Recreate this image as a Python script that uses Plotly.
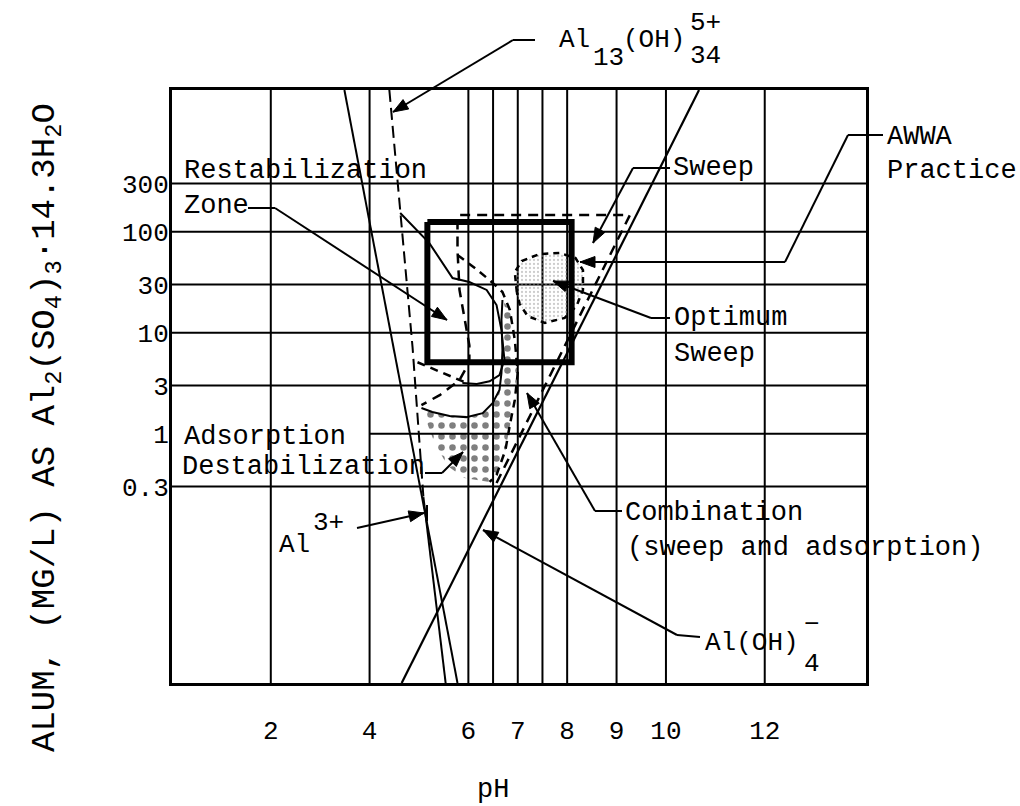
import math
import plotly.graph_objects as go

# ---------------- data (pH, alum mg/L) ----------------
x_ticks = [2, 4, 6, 7, 8, 9, 10, 12]
x_grid = [2, 4, 6, 6.5, 7, 7.5, 8, 9, 10, 12]
y_ticks = [0.3, 1, 3, 10, 30, 100, 300]
y_ticktext = ["0.3", "1", "3", "10", "30", "100", "300"]

ph_al3 = [3.49, 5.78]
alum_al3 = [2530, 0.0034]

ph_al13_upper = [4.40, 4.87, 5.09]
alum_al13_upper = [2530, 7.2, 0.236]
ph_al13_lower = [5.09, 5.54]
alum_al13_lower = [0.236, 0.0034]

ph_aloh4 = [4.65, 10.67]
alum_aloh4 = [0.0034, 2530]

ph_awwa = [5.17, 8.09, 8.09, 5.17, 5.17]
alum_awwa = [125, 125, 5.1, 5.1, 125]

ph_sweep = [6.57, 9.27, 5.78, 5.78, 5.82, 5.92, 6.02, 6.02, 5.82, 5.42, 5.05]
alum_sweep = [0.325, 146, 146, 66, 26.5, 13.4, 7.5, 5.1, 3.4, 2.41, 1.92]

ph_restab = [4.62, 5.21, 5.68, 6.02, 6.37, 6.57, 6.67, 6.73, 6.63, 6.43, 6.17, 5.88]
alum_restab = [153, 77, 34.8, 31.8, 26.5, 18.8, 10.6, 5.4, 3.8, 3.3, 3.1, 3.18]

ph_restab_low = [4.97, 5.42, 5.92]
alum_restab_low = [5.1, 4.1, 3.25]

ph_comb_edge = [5.78, 6.13, 6.43, 6.69, 6.84, 6.94, 7.00, 6.94, 6.84, 6.75, 6.57, 6.43]
alum_comb_edge = [58.7, 43.7, 33.2, 25.3, 16.8, 8.5, 4.0, 2.16, 1.22, 0.69, 0.39, 0.333]

ph_adsorb_top = [5.05, 5.27, 5.62, 5.96, 6.29, 6.49, 6.63, 6.67, 6.69, 6.67, 6.69]
alum_adsorb_top = [1.80, 1.64, 1.50, 1.46, 1.60, 2.01, 2.71, 4.0, 6.7, 13.4, 21.1]

ph_dotted = [6.69, 6.84, 6.94, 7.00, 6.94, 6.84, 6.75, 6.57, 6.43, 5.92, 5.58, 5.31, 5.11,
             5.05, 5.27, 5.62, 5.96, 6.29, 6.49, 6.63, 6.67, 6.69, 6.67, 6.69]
alum_dotted = [21.1, 16.8, 8.5, 4.0, 2.16, 1.22, 0.69, 0.39, 0.333, 0.364, 0.479, 0.83, 1.53,
               1.80, 1.64, 1.50, 1.46, 1.60, 2.01, 2.71, 4.0, 6.7, 13.4, 21.1]

ph_optimum = [6.98, 6.94, 7.08, 7.44, 7.85, 8.17, 8.32, 8.32, 8.19, 7.95, 7.55, 7.20, 7.04, 6.98]
alum_optimum = [25.3, 39.9, 51.3, 60.1, 61.5, 54.8, 41.7, 26.5, 18.4, 14.0, 12.5, 14.6, 19.2, 25.3]

# ---------------- layout helpers (pixel -> paper) ----------------
W, H = 1020, 806
L, R, T, B = 172, 866, 90, 683
FONT = "Liberation Mono"


def px(X):
    return (X - L) / (R - L)


def py(Y):
    return (B - Y) / (B - T)


fig = go.Figure()


def line(xs, ys, width=2, dash="solid", **kw):
    fig.add_trace(go.Scatter(x=xs, y=ys, mode="lines", hoverinfo="skip",
                             line=dict(color="black", width=width, dash=dash), **kw))


# dotted adsorption / combination regions
fig.add_trace(go.Scatter(x=ph_dotted, y=alum_dotted, mode="lines", fill="toself",
                         line=dict(width=0, color="rgba(0,0,0,0)"),
                         fillcolor="rgba(0,0,0,0)",
                         fillpattern=dict(shape=".", fgcolor="black", bgcolor="rgba(0,0,0,0)",
                                          size=11, solidity=0.28),
                         hoverinfo="skip"))
# optimum sweep stipple
fig.add_trace(go.Scatter(x=ph_optimum, y=alum_optimum, mode="lines", fill="toself",
                         line=dict(width=2.5, color="black", dash="6px,5px"),
                         fillcolor="rgba(0,0,0,0)",
                         fillpattern=dict(shape=".", fgcolor="#999", bgcolor="rgba(0,0,0,0)",
                                          size=4, solidity=0.25),
                         hoverinfo="skip"))

line(ph_al3, alum_al3, 2)
line(ph_al13_upper, alum_al13_upper, 2, dash="12px,6px")
line(ph_al13_lower, alum_al13_lower, 2)
line(ph_aloh4, alum_aloh4, 2.2)
line(ph_awwa, alum_awwa, 6)
line(ph_sweep, alum_sweep, 2.5, dash="10px,7px")
line(ph_restab, alum_restab, 2)
line(ph_restab_low, alum_restab_low, 2.5, dash="8px,6px")
line(ph_comb_edge, alum_comb_edge, 2.5, dash="8px,6px")
line(ph_adsorb_top, alum_adsorb_top, 2)

# ---------------- grid lines ----------------
shapes = []
for xv in x_grid:
    shapes.append(dict(type="line", xref="x", yref="paper", x0=xv, x1=xv, y0=0, y1=1,
                       line=dict(color="black", width=2), layer="below"))
for yv in y_ticks:
    x0 = 4 if yv == 1 else 0
    shapes.append(dict(type="line", xref="x", yref="y", x0=x0, x1=14.05, y0=yv, y1=yv,
                       line=dict(color="black", width=2), layer="below"))

annotations = []


def seg(a, b, width=2):
    shapes.append(dict(type="line", xref="paper", yref="paper",
                       x0=px(a[0]), y0=py(a[1]), x1=px(b[0]), y1=py(b[1]),
                       line=dict(color="black", width=width)))


def head(tail, tip, length=15, half=5.5):
    dx, dy = tip[0] - tail[0], tip[1] - tail[1]
    n = math.hypot(dx, dy)
    ux, uy = dx / n, dy / n
    bx, by = tip[0] - ux * length, tip[1] - uy * length
    p1 = (bx - uy * half, by + ux * half)
    p2 = (bx + uy * half, by - ux * half)
    path = "M {} {} L {} {} L {} {} Z".format(px(tip[0]), py(tip[1]), px(p1[0]), py(p1[1]),
                                               px(p2[0]), py(p2[1]))
    shapes.append(dict(type="path", xref="paper", yref="paper", path=path,
                       fillcolor="black", line=dict(color="black", width=1)))


def leader(pts, arrow=True, width=2):
    for a, b in zip(pts[:-1], pts[1:]):
        seg(a, b, width)
    if arrow:
        head(pts[-2], pts[-1])


def label(text, X, Y, size=27, anchor="left", angle=0):
    annotations.append(dict(text=text, x=px(X), y=py(Y), xref="paper", yref="paper",
                            xanchor=anchor, yanchor="middle", showarrow=False,
                            textangle=angle, font=dict(family=FONT, size=size, color="black")))


# leaders
leader([(535, 40), (513, 40), (393, 112)])
leader([(248, 208), (275, 208), (447, 320)])
leader([(670, 168), (633, 168), (593, 243)])
leader([(883, 135), (848, 135), (785, 262), (580, 262)])
leader([(670, 318), (651, 318), (553, 281)])
leader([(622, 511), (595, 511), (527, 393)])
leader([(700, 637), (677, 635), (483, 530)])
leader([(357, 528), (424, 513)])
leader([(427, 505), (427, 521)], arrow=False, width=2)
leader([(425, 473), (442, 473), (463, 452)])

# labels
label("Restabilization", 182, 171)
label("Zone", 182, 206)
label("Adsorption", 182, 437)
label("Destabilization", 180, 467)
label("Sweep", 671, 168)
label("AWWA", 885, 137)
label("Practice", 885, 171)
label("Optimum", 672, 318)
label("Sweep", 672, 354)
label("Combination", 623, 513)
label("(sweep and adsorption)", 625, 548)
label("Al", 557, 40, 26)
label("13", 591, 58, 26)
label("(OH)", 621, 40, 26)
label("5+", 688, 23, 26)
label("34", 688, 56, 26)
label("Al", 277, 545, 26)
label("3+", 311, 523, 26)
label("Al(OH)", 703, 643, 26)
label("−", 802, 625, 26)
label("4", 802, 664, 26)
label("pH", 493, 790, 27, anchor="center")
label("ALUM, (MG/L) AS Al<sub>2</sub>(SO<sub>4</sub>)<sub>3</sub>·14.3H<sub>2</sub>O",
      47, 428, 34, anchor="center", angle=-90)

axis_common = dict(showgrid=False, zeroline=False, showline=True, mirror=True,
                   linewidth=3, linecolor="black", ticks="",
                   tickfont=dict(family=FONT, size=26, color="black"))

fig.update_layout(
    width=W, height=H,
    margin=dict(l=L, r=W - R, t=T, b=H - B),
    paper_bgcolor="white", plot_bgcolor="white",
    showlegend=False,
    shapes=shapes, annotations=annotations,
    xaxis=dict(range=[0, 14.05], tickvals=x_ticks, ticktext=[str(v) for v in x_ticks],
               ticklabelstandoff=22, **axis_common),
    yaxis=dict(type="log", range=[-2.468, 3.403], tickvals=y_ticks, ticktext=y_ticktext,
               ticklabelstandoff=-5, **axis_common),
)

fig.write_html("out.html")
